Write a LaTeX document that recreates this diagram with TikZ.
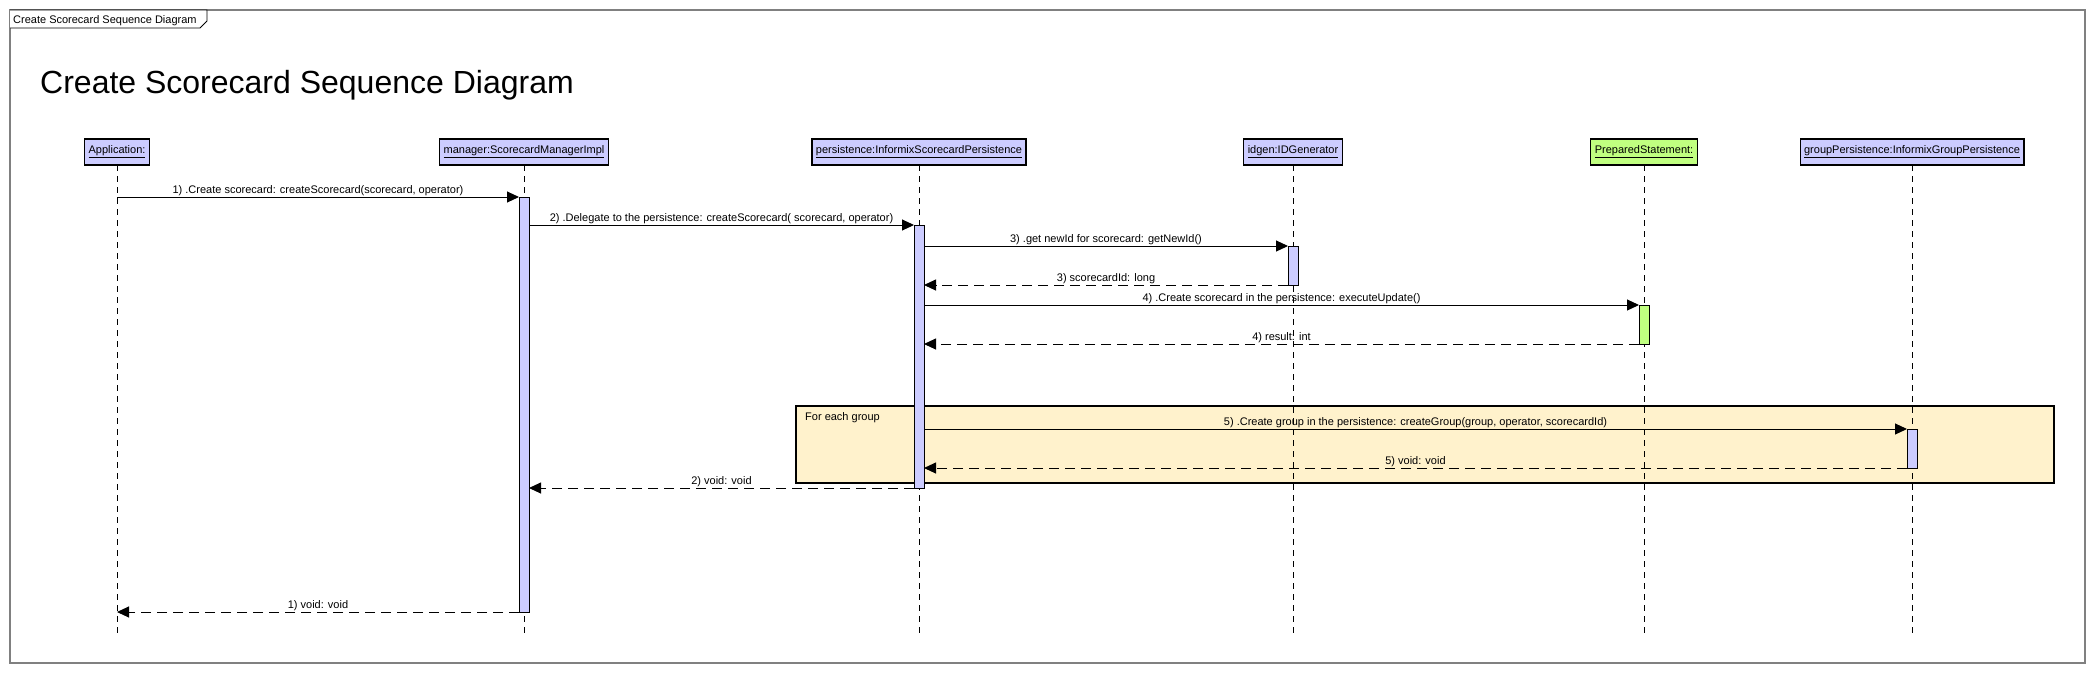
\documentclass[tikz,border=0pt]{standalone}
\usepackage{fontspec}
\setmainfont{Liberation Sans}
\usetikzlibrary{arrows.meta}
\definecolor{headblue}{RGB}{204,204,255}
\definecolor{headgreen}{RGB}{192,255,128}
\definecolor{loopyellow}{RGB}{255,242,204}
\definecolor{framegray}{RGB}{128,128,128}
\makeatletter
\def\seq@tint{headblue}
\pgfkeys{
  /seq/.cd,
  id/.store in=\seq@id,
  name/.store in=\seq@name,
  at/.store in=\seq@x,
  of/.store in=\seq@of,
  from/.store in=\seq@from,
  to/.store in=\seq@to,
  tint/.store in=\seq@tint,
}
\newcommand{\participant}[1]{
  \def\seq@tint{headblue}
  \pgfkeys{/seq/.cd,#1}
  \node[head box,fill=\seq@tint] (\seq@id) at (\seq@x,152) {\underline{\seq@name}};
  \draw[life line] (\seq@id.south) -- (\seq@id.south |- 0,633);
}
\newcommand{\activation}[1]{
  \def\seq@tint{headblue}
  \pgfkeys{/seq/.cd,#1}
  \pgfmathsetmacro\seq@len{\seq@to-\seq@from}
  \node[activation box,minimum height=\seq@len pt,fill=\seq@tint] (\seq@id) at (\seq@of |- 0,\seq@from) {};
}
\makeatother

\begin{document}
\begin{tikzpicture}[
  x=1pt,y=-1pt,
  font=\fontsize{11}{13}\selectfont,
  head box/.style={draw,line width=1.2pt,inner xsep=4pt,inner ysep=0pt,minimum height=26pt,outer sep=0pt},
  activation box/.style={draw,line width=1pt,minimum width=10pt,inner sep=0pt,outer sep=0pt,anchor=north},
  life line/.style={line width=1pt,dash pattern=on 6pt off 5pt},
  call/.style={line width=1pt,-{Triangle[length=12pt,width=11pt]}},
  reply/.style={call,dash pattern=on 10pt off 6pt},
  msg/.style={anchor=base,yshift=4pt,inner sep=0pt},
  frame box/.style={draw=framegray,line width=1.5pt,inner sep=0pt,outer sep=0pt,anchor=north west},
  loop box/.style={draw,fill=loopyellow,line width=1.2pt,inner sep=0pt,outer sep=0pt,anchor=north west},
  ]
  \useasboundingbox (0,0) rectangle (2095,673);

  \node[frame box,minimum width=2075pt,minimum height=653pt] (frame) at (10,10) {};
  \draw[line width=0.8pt,fill=white] (frame.north west) -- (207,10) -- (207,21) -- (200,28) -- (10,28);
  \node[anchor=base west,inner sep=0pt] (frame-tag) at (13,23) {Create Scorecard Sequence Diagram};
  \node[anchor=base west,inner sep=0pt,font=\fontsize{32}{38}\selectfont] (title) at (40,93) {Create Scorecard Sequence Diagram};

  \node[loop box,minimum width=1258pt,minimum height=77pt] (loop) at (796,406) {};
  \node[anchor=base west,inner sep=0pt] (loop-tag) at (805,420) {For each group};

  \participant{id=app,name=Application:,at=117}
  \participant{id=mgr,name=manager:ScorecardManagerImpl,at=524}
  \participant{id=pers,name=persistence:InformixScorecardPersistence,at=919}
  \participant{id=idgen,name=idgen:IDGenerator,at=1293}
  \participant{id=ps,name=PreparedStatement:,at=1644,tint=headgreen}
  \participant{id=gp,name=groupPersistence:InformixGroupPersistence,at=1912}

  \activation{id=mgr-act,of=mgr,from=197,to=612}
  \activation{id=pers-act,of=pers,from=225,to=488}
  \activation{id=idgen-act,of=idgen,from=246,to=285}
  \activation{id=ps-act,of=ps,from=305,to=344,tint=headgreen}
  \activation{id=gp-act,of=gp,from=429,to=468}

  \draw[call] (app |- mgr-act.north) -- node[msg] {1) .Create scorecard: createScorecard(scorecard, operator)} (mgr-act.north west);
  \draw[call] (mgr-act.east |- pers-act.north) -- node[msg] {2) .Delegate to the persistence: createScorecard( scorecard, operator)} (pers-act.north west);
  \draw[call] (pers-act.east |- idgen-act.north) -- node[msg] {3) .get newId for scorecard: getNewId()} (idgen-act.north west);
  \draw[reply] (idgen-act.south west) -- node[msg] {3) scorecardId: long} (pers-act.east |- idgen-act.south);
  \draw[call] (pers-act.east |- ps-act.north) -- node[msg] {4) .Create scorecard in the persistence: executeUpdate()} (ps-act.north west);
  \draw[reply] (ps-act.south west) -- node[msg] {4) result: int} (pers-act.east |- ps-act.south);
  \draw[call] (pers-act.east |- gp-act.north) -- node[msg] {5) .Create group in the persistence: createGroup(group, operator, scorecardId)} (gp-act.north west);
  \draw[reply] (gp-act.south west) -- node[msg] {5) void: void} (pers-act.east |- gp-act.south);
  \draw[reply] (pers-act.south west) -- node[msg] {2) void: void} (mgr-act.east |- pers-act.south);
  \draw[reply] (mgr-act.south west) -- node[msg] {1) void: void} (app |- mgr-act.south);
\end{tikzpicture}
\end{document}
